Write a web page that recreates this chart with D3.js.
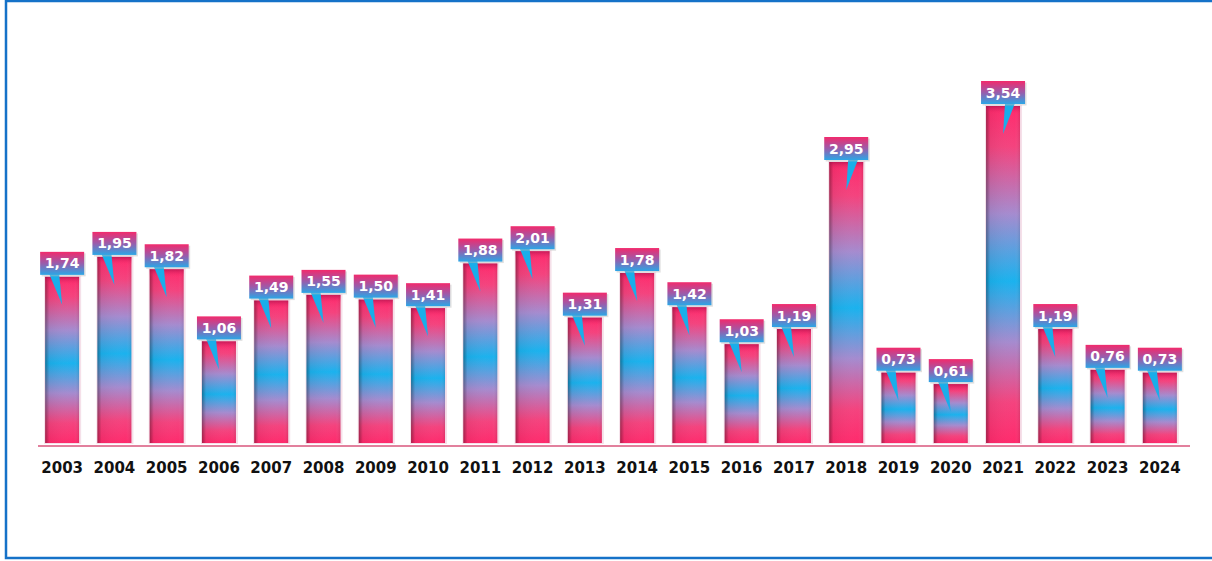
<!DOCTYPE html>
<html><head><meta charset="utf-8">
<script src="https://cdn.jsdelivr.net/npm/d3@7/dist/d3.min.js"></script>
<style>body{margin:0;background:#fff}svg{display:block}</style>
</head><body>
<svg id="c" width="1212" height="561"></svg>
<script>
const years = ["2003","2004","2005","2006","2007","2008","2009","2010","2011","2012","2013","2014","2015","2016","2017","2018","2019","2020","2021","2022","2023","2024"];
const values = [1.74,1.95,1.82,1.06,1.49,1.55,1.50,1.41,1.88,2.01,1.31,1.78,1.42,1.03,1.19,2.95,0.73,0.61,3.54,1.19,0.76,0.73];
const labels = ["1,74","1,95","1,82","1,06","1,49","1,55","1,50","1,41","1,88","2,01","1,31","1,78","1,42","1,03","1,19","2,95","0,73","0,61","3,54","1,19","0,76","0,73"];
const pointerRight = ["2018","2021"];

const svg = d3.select("#c");
const defs = svg.append("defs");

const bg = defs.append("linearGradient").attr("id","barGrad").attr("x1",0).attr("y1",0).attr("x2",0).attr("y2",1);
[[0,"#ff2a6c"],[0.12,"#f4437e"],[0.32,"#a58bcf"],[0.52,"#1ab2ee"],[0.70,"#a58bcf"],[0.88,"#f4437e"],[1,"#ff2a6c"]]
  .forEach(([o,c])=>bg.append("stop").attr("offset",o).attr("stop-color",c));
const sg = defs.append("linearGradient").attr("id","sideGrad").attr("x1",0).attr("y1",0).attr("x2",1).attr("y2",0);
sg.append("stop").attr("offset",0).attr("stop-color","#000").attr("stop-opacity",0.35);
sg.append("stop").attr("offset",0.12).attr("stop-color","#000").attr("stop-opacity",0.05);
sg.append("stop").attr("offset",0.85).attr("stop-color","#fff").attr("stop-opacity",0);
sg.append("stop").attr("offset",1).attr("stop-color","#000").attr("stop-opacity",0.1);
const lg = defs.append("linearGradient").attr("id","labGrad").attr("x1",0).attr("y1",0).attr("x2",0).attr("y2",1);
lg.append("stop").attr("offset",0).attr("stop-color","#f22a6c");
lg.append("stop").attr("offset",0.5).attr("stop-color","#9a5cab");
lg.append("stop").attr("offset",1).attr("stop-color","#2ba6e6");
const tg = defs.append("linearGradient").attr("id","topGrad").attr("x1",0).attr("y1",0).attr("x2",0).attr("y2",1);
tg.append("stop").attr("offset",0).attr("stop-color","#a0104a").attr("stop-opacity",0.6);
tg.append("stop").attr("offset",1).attr("stop-color","#ff2a6c").attr("stop-opacity",0);

// frame
svg.append("rect").attr("x",6).attr("y",1).attr("width",1220).attr("height",557)
  .attr("fill","none").attr("stroke","#1572c8").attr("stroke-width",2.5);

const x = d3.scaleBand().domain(years).range([36,1186]).paddingInner(0.35).paddingOuter(0.175);
const y = d3.scaleLinear().domain([0,3.54]).range([442,106]);
const bw = x.bandwidth();

const g = svg.append("g");
const bars = g.selectAll("g.bar").data(years).join("g").attr("class","bar");
bars.append("rect").attr("x",d=>x(d)-1).attr("y",(d,i)=>y(values[i])-1).attr("width",bw+3).attr("height",(d,i)=>y(0)-y(values[i])+3)
  .attr("fill","#f1d3e0").attr("opacity",0.7);
bars.append("rect").attr("x",d=>x(d)).attr("y",(d,i)=>y(values[i])).attr("width",bw).attr("height",(d,i)=>y(0)-y(values[i])+1)
  .attr("fill","url(#barGrad)");
bars.append("rect").attr("x",d=>x(d)).attr("y",(d,i)=>y(values[i])).attr("width",bw).attr("height",(d,i)=>y(0)-y(values[i])+1)
  .attr("fill","url(#sideGrad)");
bars.append("rect").attr("x",d=>x(d)).attr("y",(d,i)=>y(values[i])).attr("width",bw).attr("height",8)
  .attr("fill","url(#topGrad)");

// baseline
svg.append("line").attr("x1",38).attr("x2",1190).attr("y1",446).attr("y2",446)
  .attr("stroke","#e2809d").attr("stroke-width",2);

// x axis labels
const xAxis = d3.axisBottom(x).tickSize(0).tickPadding(0);
const ax = svg.append("g").attr("transform","translate(0,462)").call(xAxis);
ax.select(".domain").remove();
ax.selectAll("text").attr("font-family","'DejaVu Sans', Verdana, sans-serif").attr("font-size",15)
  .attr("font-weight","bold").attr("fill","#111").attr("dy","0.71em");

// labels
const lw = 44, lh = 23;
const boxBottom = i => y(values[i]) - 2;
const lab = g.selectAll("g.lab").data(years).join("g").attr("class","lab");
lab.append("path").attr("d",(d,i)=>{
  const cx = x(d)+bw/2, bb = boxBottom(i);
  if (pointerRight.includes(d)) return `M${cx+2},${bb-1} L${cx+12},${bb-1} L${cx},${bb+30} Z`;
  return `M${cx-13},${bb-1} L${cx-3},${bb-1} L${cx},${bb+30} Z`;
}).attr("fill","#19aeea");
lab.append("rect").attr("x",d=>x(d)+bw/2-lw/2+1.5).attr("y",(d,i)=>boxBottom(i)-lh+1.5).attr("width",lw).attr("height",lh)
  .attr("fill","#bbb").attr("opacity",0.45);
lab.append("rect").attr("x",d=>x(d)+bw/2-lw/2).attr("y",(d,i)=>boxBottom(i)-lh).attr("width",lw).attr("height",lh)
  .attr("fill","url(#labGrad)");
lab.append("text").attr("x",d=>x(d)+bw/2).attr("y",(d,i)=>boxBottom(i)-lh/2).attr("dy","0.36em")
  .attr("text-anchor","middle").attr("fill","#fff").attr("font-family","'DejaVu Sans', Verdana, sans-serif")
  .attr("font-weight","bold").attr("font-size",14).text((d,i)=>labels[i]);
</script>
</body></html>
